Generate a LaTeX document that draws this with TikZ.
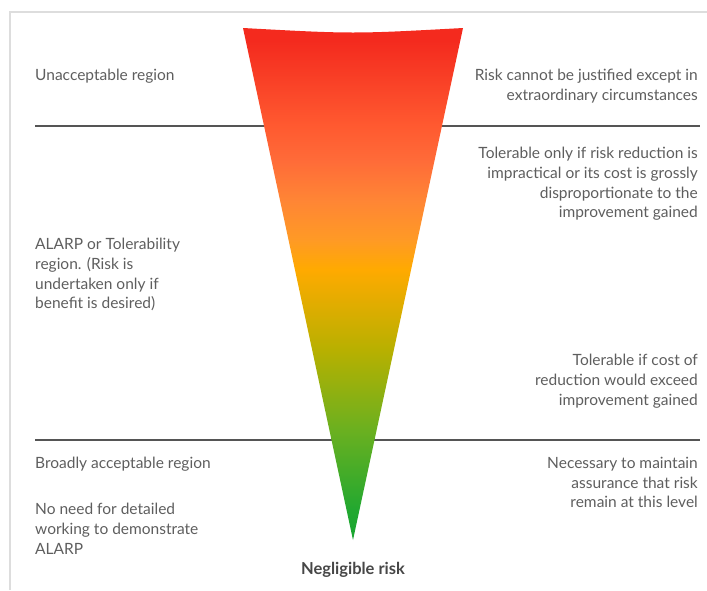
\documentclass[tikz,border=0pt]{standalone}
\usepackage{fontspec}
\setmainfont{Lato}
\usetikzlibrary{positioning}
\definecolor{txtG}{HTML}{5E5E5E}
\definecolor{lineG}{HTML}{555555}
\definecolor{frameG}{HTML}{DDDDDD}
\definecolor{rRed}{HTML}{F42A1E}
\definecolor{rRedB}{HTML}{FF5A30}
\definecolor{rOrA}{HTML}{FF6B38}
\definecolor{rOrB}{HTML}{FF8535}
\definecolor{rOrC}{HTML}{FF9A25}
\definecolor{rAmber}{HTML}{FFAA00}
\definecolor{rOlive}{HTML}{B8B000}
\definecolor{rLime}{HTML}{6AB020}
\definecolor{rGreen}{HTML}{22A830}
\definecolor{rGreenB}{HTML}{18A530}
\pgfdeclareverticalshading{riskshade}{100bp}{color(0bp)=(rGreenB); color(25bp)=(rGreenB); color(27.9bp)=(rGreen); color(35.7bp)=(rLime); color(43.6bp)=(rOlive); color(51.4bp)=(rAmber); color(54.3bp)=(rOrC); color(58.2bp)=(rOrB); color(62.1bp)=(rOrA); color(65.4bp)=(rRedB); color(73.8bp)=(rRed); color(75bp)=(rRed); color(100bp)=(rRed)}

\begin{document}
\begin{tikzpicture}[x=1pt,y=-1pt,
  lbl/.style={text=txtG,font=\fontsize{15.5}{19.7}\selectfont,inner sep=0pt},
  lblL/.style={lbl,align=left,anchor=north west},
  lblR/.style={lbl,align=right,anchor=north east},
  band/.style={lineG,line width=2}]
\useasboundingbox (0,0) rectangle (707,590);
\draw[frameG,line width=2] (10,590)--(10,12)--(707,12);
% region borders
\coordinate (upL) at (35,126); \coordinate (upR) at (700,126);
\coordinate (loL) at (35,440); \coordinate (loR) at (700,440);
\draw[band] (upL)--(upR);
\draw[band] (loL)--(loR);
% the risk wedge
\coordinate (topL) at (243,28); \coordinate (topR) at (463,28); \coordinate (tip) at (353,540);
\shade[shading=riskshade] (topL) .. controls (353,34) .. (topR) -- (tip) -- cycle;
% left column
\node[lblL] (unacc) at (35,69) {Unacceptable region};
\node[lblL] (alarp) at (35,238) {ALARP or Tolerability\\region. (Risk is\\undertaken only if\\benefit is desired)};
\node[lblL] (broad) at (35,457) {Broadly acceptable region};
\node[lblL] (noneed) at (35,503) {No need for detailed\\working to demonstrate\\ALARP};
% right column
\node[lblR] (justif) at (698,69) {Risk cannot be justified except in\\extraordinary circumstances};
\node[lblR] (tolOnly) at (698,147) {Tolerable only if risk reduction is\\impractical or its cost is grossly\\disproportionate to the\\improvement gained};
\node[lblR] (tolCost) at (698,354) {Tolerable if cost of\\reduction would exceed\\improvement gained};
\node[lblR] (maint) at (698,457) {Necessary to maintain\\assurance that risk\\remain at this level};
% bottom
\node[lbl,anchor=north,font=\fontsize{16.5}{20}\selectfont\bfseries,text=black!72] (neglig) at (353,562) {Negligible risk};
\end{tikzpicture}
\end{document}
